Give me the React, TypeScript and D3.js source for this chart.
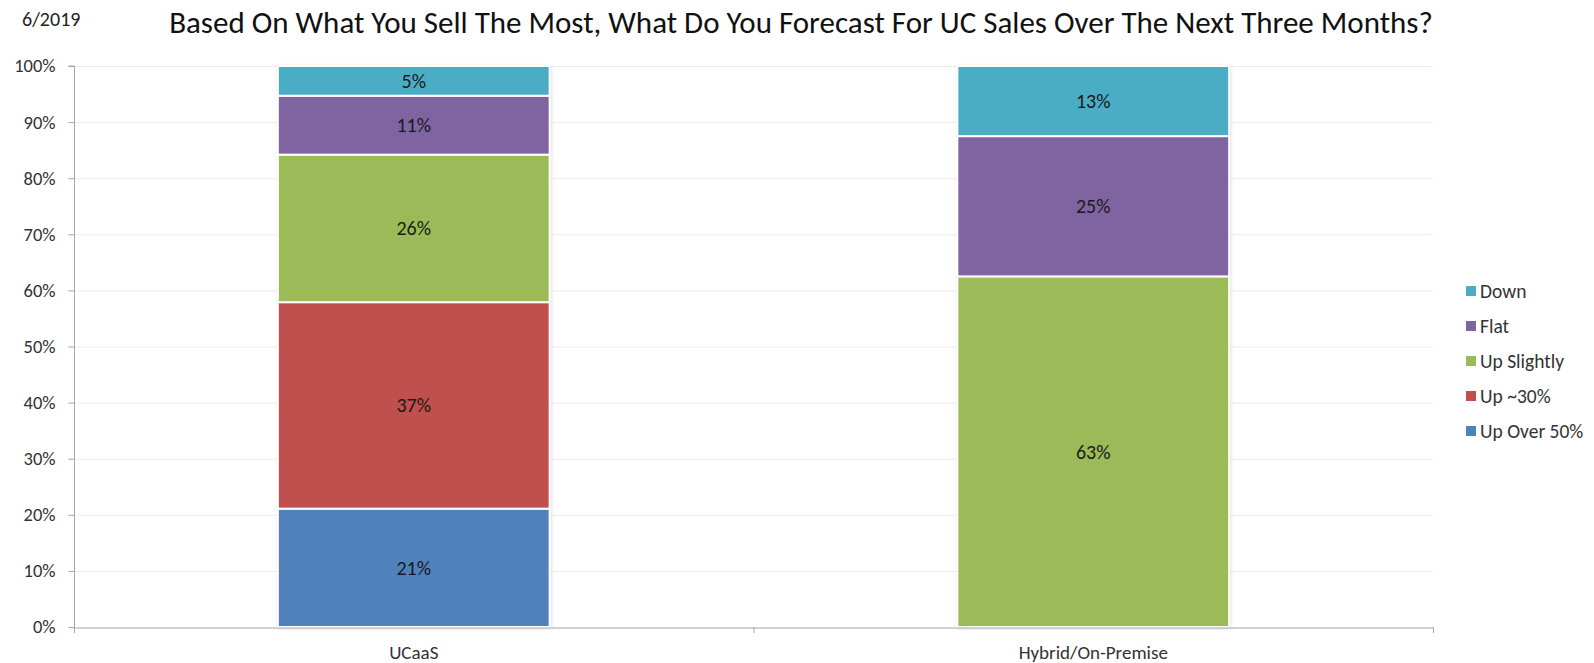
import { useRef, useEffect } from "react";
import * as d3 from "d3";

const categories = ["UCaaS", "Hybrid/On-Premise"];
const seriesNames = ["Up Over 50%", "Up ~30%", "Up Slightly", "Flat", "Down"];
const seriesColors = ["#4F81BD", "#C0504D", "#9BBB59", "#8064A2", "#4BACC6"];
// share of answers per category, bottom to top
const upOver50 = [21.1, 0];
const up30 = [36.8, 0];
const upSlightly = [26.3, 62.5];
const flat = [10.5, 25];
const down = [5.3, 12.5];
const yTicks = [0, 10, 20, 30, 40, 50, 60, 70, 80, 90, 100];

export default function App() {
  const ref = useRef<SVGSVGElement>(null);
  useEffect(() => {
    const svg = d3.select(ref.current);
    svg.selectAll("*").remove();
    const font = "Calibri, Carlito, 'Open Sans', sans-serif";

    const left = 74;
    const right = 1433;
    const top = 66;
    const bottom = 627;

    const x = d3.scaleBand().domain(categories).range([left, right]);
    const y = d3.scaleLinear().domain([0, 100]).range([bottom, top]);

    // shadow for the bars
    const defs = svg.append("defs");
    const f = defs
      .append("filter")
      .attr("id", "sh")
      .attr("x", "-5%")
      .attr("y", "-5%")
      .attr("width", "110%")
      .attr("height", "110%");
    f.append("feDropShadow")
      .attr("dx", 1)
      .attr("dy", 1)
      .attr("stdDeviation", 2)
      .attr("flood-color", "#000")
      .attr("flood-opacity", 0.18);

    svg
      .append("text")
      .attr("x", 22)
      .attr("y", 26)
      .attr("font-family", font)
      .attr("font-size", 20)
      .attr("fill", "#222")
      .text("6/2019");

    svg
      .append("text")
      .attr("x", 801)
      .attr("y", 33)
      .attr("text-anchor", "middle")
      .attr("font-family", font)
      .attr("font-size", 31)
      .attr("fill", "#111")
      .text(
        "Based On What You Sell The Most, What Do You Forecast For UC Sales Over The Next Three Months?"
      );

    // gridlines
    svg
      .append("g")
      .selectAll("line")
      .data(yTicks.filter((d) => d > 0))
      .join("line")
      .attr("x1", left)
      .attr("x2", right)
      .attr("y1", (d) => y(d) + 0.5)
      .attr("y2", (d) => y(d) + 0.5)
      .attr("stroke", "#EEEEE0")
      .attr("stroke-width", 1);

    // y axis
    const yAxis = svg
      .append("g")
      .attr("transform", `translate(${left + 0.5},0)`)
      .call(
        d3
          .axisLeft(y)
          .tickValues(yTicks)
          .tickSize(6)
          .tickFormat((d) => d + "%")
      );
    yAxis.select(".domain").attr("stroke", "#A6A6A6").attr("d", `M-6,${top}H0V${bottom}`);
    yAxis.selectAll(".tick line").attr("stroke", "#A6A6A6");
    yAxis
      .selectAll(".tick text")
      .attr("font-family", font)
      .attr("font-size", 18.5)
      .attr("fill", "#333")
      .attr("x", -19);

    // stacked bars
    const rows = categories.map((c, i) => ({
      cat: c,
      "Up Over 50%": upOver50[i],
      "Up ~30%": up30[i],
      "Up Slightly": upSlightly[i],
      Flat: flat[i],
      Down: down[i],
    }));
    const stack = d3.stack<any>().keys(seriesNames)(rows);
    const color = d3.scaleOrdinal<string>().domain(seriesNames).range(seriesColors);
    const barW = x.bandwidth() * 0.4;

    const bars = svg.append("g");
    categories.forEach((c) => {
      const bx = (x(c) as number) + (x.bandwidth() - barW) / 2;
      bars
        .append("rect")
        .attr("x", bx)
        .attr("y", y(100))
        .attr("width", barW)
        .attr("height", y(0) - y(100))
        .attr("fill", "#fff")
        .attr("filter", "url(#sh)");
    });

    stack.forEach((layer) => {
      layer.forEach((seg, i) => {
        const v = seg[1] - seg[0];
        if (v <= 0) return;
        const c = categories[i];
        const bx = (x(c) as number) + (x.bandwidth() - barW) / 2;
        bars
          .append("rect")
          .attr("x", bx)
          .attr("y", y(seg[1]))
          .attr("width", barW)
          .attr("height", y(seg[0]) - y(seg[1]))
          .attr("fill", color(layer.key))
          .attr("stroke", "#fff")
          .attr("stroke-width", 2);
        bars
          .append("text")
          .attr("x", bx + barW / 2)
          .attr("y", (y(seg[0]) + y(seg[1])) / 2)
          .attr("dy", "0.35em")
          .attr("text-anchor", "middle")
          .attr("font-family", font)
          .attr("font-size", 20)
          .attr("fill", "#1a1a1a")
          .text(Math.round(v) + "%");
      });
    });

    // x axis
    const xAxis = svg
      .append("g")
      .attr("transform", `translate(0,${bottom + 0.5})`)
      .call(d3.axisBottom(x).tickSize(0));
    xAxis.select(".domain").attr("stroke", "#A6A6A6");
    xAxis
      .selectAll(".tick text")
      .attr("font-family", font)
      .attr("font-size", 19)
      .attr("fill", "#333")
      .attr("dy", 0)
      .attr("y", 31);
    svg
      .append("g")
      .selectAll("line")
      .data([left, x(categories[1]) as number, right])
      .join("line")
      .attr("x1", (d) => d + 0.5)
      .attr("x2", (d) => d + 0.5)
      .attr("y1", bottom)
      .attr("y2", bottom + 6)
      .attr("stroke", "#A6A6A6");

    // legend
    const legendNames = seriesNames.slice().reverse();
    const lg = svg
      .append("g")
      .selectAll("g")
      .data(legendNames)
      .join("g")
      .attr("transform", (d, i) => `translate(1466,${291 + i * 35})`);
    lg.append("rect")
      .attr("x", 0)
      .attr("y", -5)
      .attr("width", 10)
      .attr("height", 10)
      .attr("fill", (d) => color(d));
    lg.append("text")
      .attr("x", 14)
      .attr("dy", "0.35em")
      .attr("font-family", font)
      .attr("font-size", 19.5)
      .attr("fill", "#333")
      .text((d) => d);
  }, []);
  return (
    <div style={{ position: "absolute", left: 0, top: 0 }}>
      <svg ref={ref} width={1594} height={663} style={{ display: "block", background: "#fff" }} />
    </div>
  );
}
